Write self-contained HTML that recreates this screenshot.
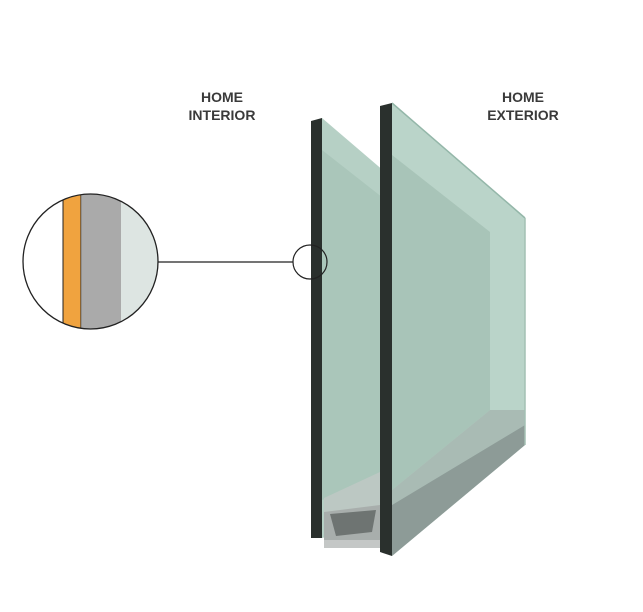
<!DOCTYPE html>
<html><head><style>
html,body{margin:0;padding:0;background:#fff;width:643px;height:612px;overflow:hidden}
.t{font-family:"Liberation Sans",sans-serif;font-size:14px;font-weight:bold;fill:#3a3a3a;text-anchor:middle}
</style></head><body>
<svg width="643" height="612" viewBox="0 0 643 612">
<defs>
<clipPath id="c"><circle cx="90.5" cy="261.5" r="67.5"/></clipPath>
</defs>
<text class="t" x="222" y="102">HOME</text>
<text class="t" x="222" y="120">INTERIOR</text>
<text class="t" x="523" y="102">HOME</text>
<text class="t" x="523" y="120">EXTERIOR</text>
<!-- inner pane face -->
<polygon points="322,118 392,178 392,520 322,538" fill="#b6d0c5"/>
<polygon points="322,150 392,205 392,480 322,500" fill="#aac6ba"/>
<!-- spacer -->
<polygon points="324,498 380,472 380,520 324,512" fill="#bcc8c3"/>
<polygon points="324,512 380,505 380,540 324,540" fill="#a8aeac"/>
<polygon points="330,514 376,510 372,532 336,536" fill="#6e7472"/>
<polygon points="324,540 380,540 380,548 324,548" fill="#c4c7c6"/>
<!-- inner dark edge -->
<polygon points="311,121 322,118 322,538 311,538" fill="#2a302d"/>
<!-- outer pane face -->
<polygon points="392,103 525,218 525,445 392,556" fill="#bad4c9"/>
<polygon points="392,155 490,232 490,410 392,490" fill="#a8c4b8"/>
<polygon points="392,490 490,410 525,410 525,425 392,505" fill="#a9bbb4"/>
<polygon points="392,505 525,425 525,445 392,556" fill="#8d9b97"/>
<line x1="392" y1="103" x2="525" y2="218" stroke="#94b7a9" stroke-width="1.5"/>
<line x1="525" y1="218" x2="525" y2="445" stroke="#a3c0b4" stroke-width="1.5"/>
<!-- outer dark edge -->
<polygon points="380,106 392,103 392,556 380,552" fill="#2a302d"/>
<!-- magnifier -->
<g clip-path="url(#c)">
<rect x="20" y="190" width="150" height="150" fill="#fff"/>
<rect x="63" y="190" width="18" height="150" fill="#f0a33f" stroke="#222" stroke-width="1"/>
<rect x="82" y="190" width="39" height="150" fill="#aaaaaa"/>
<rect x="121" y="190" width="45" height="150" fill="#dde5e2"/>
</g>
<circle cx="90.5" cy="261.5" r="67.5" fill="none" stroke="#222" stroke-width="1.3"/>
<line x1="158" y1="262" x2="293" y2="262" stroke="#222" stroke-width="1.2"/>
<circle cx="310" cy="262" r="17" fill="none" stroke="#222" stroke-width="1.2"/>
</svg>
</body></html>
